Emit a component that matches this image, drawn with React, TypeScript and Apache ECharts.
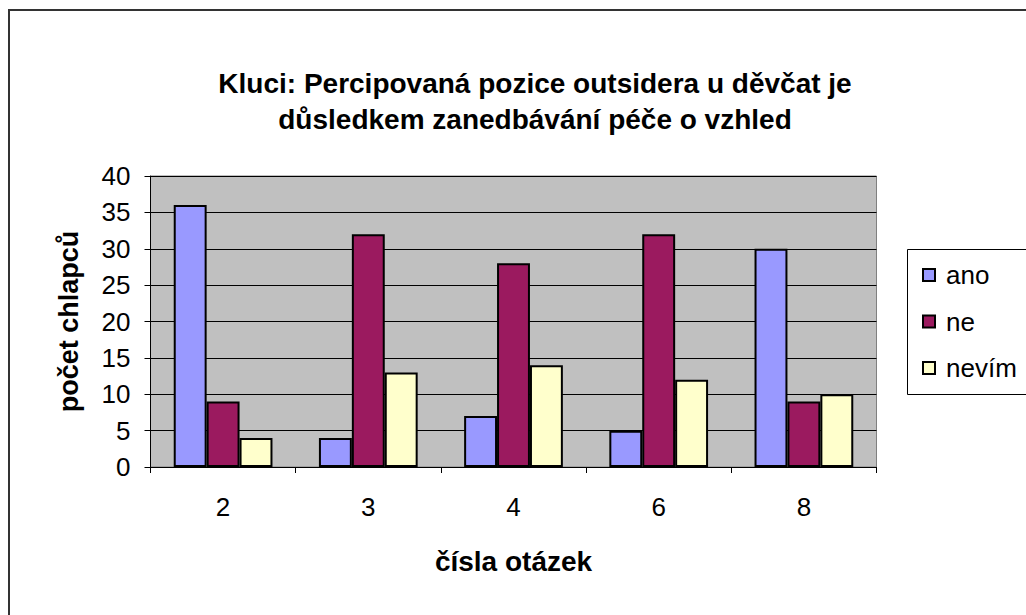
import React, { useEffect, useRef } from "react";
import * as echarts from "echarts";

const categories = ["2", "3", "4", "6", "8"];
const ano = [36, 4, 7, 5, 30];
const ne = [9, 32, 28, 32, 9];
const nevim = [4, 13, 14, 12, 10];
const seriesNames = ["ano", "ne", "nevím"];
const seriesColors = ["#9999FF", "#9B1A5F", "#FFFFCC"];
const titleText = "Kluci: Percipovaná pozice outsidera u děvčat je\ndůsledkem zanedbávání péče o vzhled";

const FONT = "'Liberation Sans', Arial, sans-serif";

export default function App() {
  const ref = useRef<HTMLDivElement>(null);
  useEffect(() => {
    if (!ref.current) return;
    const chart = echarts.init(ref.current, null, { renderer: "svg" });
    const data = [ano, ne, nevim];
    chart.setOption({
      animation: false,
      backgroundColor: "#ffffff",
      textStyle: { fontFamily: FONT },
      title: {
        text: titleText,
        left: 530,
        top: 60,
        textAlign: "center",
        textStyle: {
          fontFamily: FONT,
          fontSize: 28,
          fontWeight: "bold",
          color: "#000",
          lineHeight: 36,
        },
      },
      graphic: [
        {
          type: "rect",
          shape: { x: 9, y: 10, width: 1100, height: 700 },
          style: { fill: "none", stroke: "#333", lineWidth: 2 },
          z: 100,
        },
        {
          type: "rect",
          shape: { x: 907.5, y: 249.5, width: 140, height: 145 },
          style: { fill: "#fff", stroke: "#000", lineWidth: 1 },
          z: 0,
        },
      ],
      legend: {
        orient: "vertical",
        left: 917,
        top: 257,
        itemWidth: 12,
        itemHeight: 12,
        itemGap: 20.5,
        icon: "rect",
        data: seriesNames,
        textStyle: {
          fontFamily: FONT,
          fontSize: 26,
          color: "#000",
          padding: [0, 0, 0, 6],
        },
        z: 5,
      },
      grid: {
        left: 150.5,
        top: 176,
        width: 726,
        height: 291,
        show: true,
        backgroundColor: "#C0C0C0",
        borderColor: "#808080",
        borderWidth: 1,
      },
      xAxis: {
        type: "category",
        data: categories,
        name: "čísla otázek",
        nameLocation: "middle",
        nameGap: 80,
        nameTextStyle: { fontFamily: FONT, fontSize: 28, fontWeight: "bold", color: "#000" },
        axisLine: { lineStyle: { color: "#000", width: 1 } },
        axisTick: { show: true, length: 6, lineStyle: { color: "#000" } },
        axisLabel: { fontFamily: FONT, fontSize: 26, color: "#000", margin: 27 },
        splitLine: { show: false },
      },
      yAxis: {
        type: "value",
        min: 0,
        max: 40,
        interval: 5,
        name: "počet chlapců",
        nameLocation: "middle",
        nameGap: 68,
        nameRotate: 90,
        nameTextStyle: { fontFamily: FONT, fontSize: 27, fontWeight: "bold", color: "#000" },
        axisLine: { show: true, lineStyle: { color: "#000", width: 1 } },
        axisTick: { show: true, length: 6, lineStyle: { color: "#000" } },
        axisLabel: { fontFamily: FONT, fontSize: 26, color: "#000", margin: 20 },
        splitLine: { show: true, lineStyle: { color: "#000", width: 1 } },
      },
      series: seriesNames.map((name, i) => ({
        name,
        type: "bar",
        data: data[i],
        barGap: "0%",
        barCategoryGap: "32%",
        itemStyle: { color: seriesColors[i], borderColor: "#000", borderWidth: 2 },
      })),
    });
    return () => chart.dispose();
  }, []);
  return (
    <div
      ref={ref}
      style={{ position: "fixed", left: 0, top: 0, width: 1026, height: 615 }}
    />
  );
}
